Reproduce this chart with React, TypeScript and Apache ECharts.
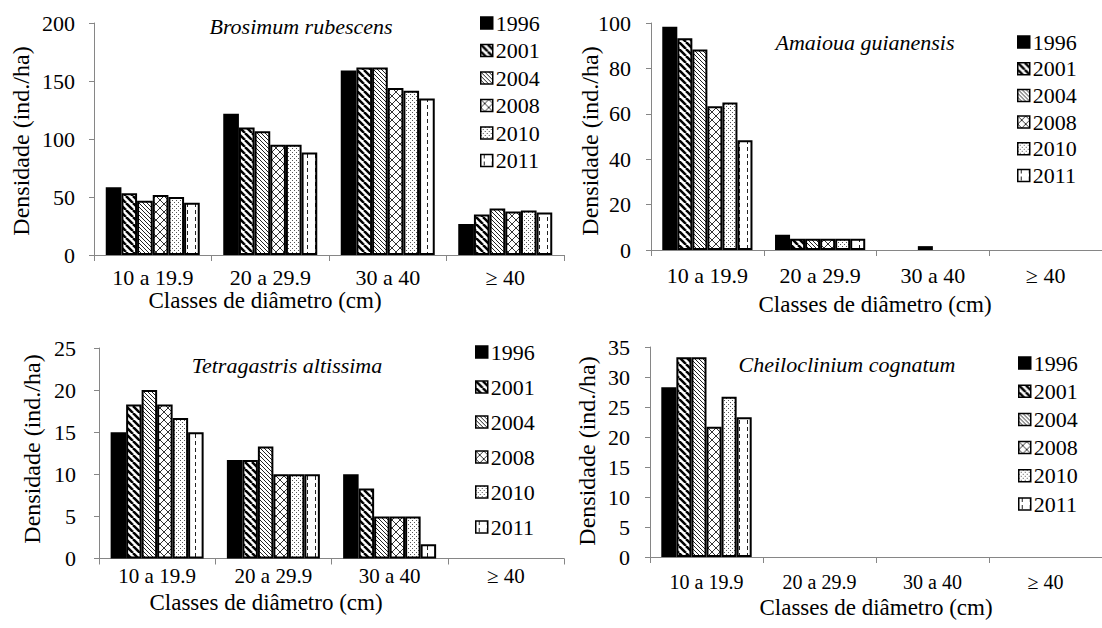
import React, { useEffect, useRef } from 'react';
import * as echarts from 'echarts';

// Census years and diameter classes
const years = ['1996', '2001', '2004', '2008', '2010', '2011'];
const diameterClasses = ['10 a 19.9', '20 a 29.9', '30 a 40', '≥ 40'];

// Density (ind./ha) per diameter class; one row per census year
const brosimumRubescens = [
  [58.3, 121.7, 159.0, 26.7],
  [53.3, 110.0, 161.7, 35.0],
  [46.7, 106.7, 161.7, 40.0],
  [51.7, 95.0, 144.0, 37.5],
  [50.0, 95.0, 141.7, 38.3],
  [45.0, 88.3, 135.0, 36.7],
];
const amaiouaGuianensis = [
  [98.3, 6.7, 0, 0],
  [93.3, 5.0, 0, 0],
  [88.3, 5.0, 1.7, 0],
  [63.3, 5.0, 0, 0],
  [65.0, 5.0, 0, 0],
  [48.3, 5.0, 0, 0],
];
const tetragastrisAltissima = [
  [15.0, 11.7, 10.0, 0],
  [18.3, 11.7, 8.3, 0],
  [20.0, 13.3, 5.0, 0],
  [18.3, 10.0, 5.0, 0],
  [16.7, 10.0, 5.0, 0],
  [15.0, 10.0, 1.7, 0],
];
const cheiloclinumCognatum = [
  [28.3, 0, 0, 0],
  [33.3, 0, 0, 0],
  [33.3, 0, 0, 0],
  [21.7, 0, 0, 0],
  [26.7, 0, 0, 0],
  [23.3, 0, 0, 0],
];

const FONT = "'Liberation Serif', 'Times New Roman', serif";
const AXIS_GREY = '#868686';

type Ctx = CanvasRenderingContext2D;

function tile(w: number, h: number, draw: (ctx: Ctx, w: number, h: number) => void) {
  const c = document.createElement('canvas');
  c.width = w;
  c.height = h;
  const ctx = c.getContext('2d') as Ctx;
  ctx.fillStyle = '#fff';
  ctx.fillRect(0, 0, w, h);
  draw(ctx, w, h);
  return { image: c.toDataURL(), repeat: 'repeat', imageWidth: w, imageHeight: h };
}

function diag(ctx: Ctx, s: number, dir: 1 | -1) {
  for (let k = -1; k <= 1; k++) {
    ctx.beginPath();
    if (dir === 1) {
      ctx.moveTo(k * s, 0);
      ctx.lineTo(k * s + s, s);
    } else {
      ctx.moveTo(k * s, s);
      ctx.lineTo(k * s + s, 0);
    }
    ctx.stroke();
  }
}

function buildFills(): any[] {
  const stripes = tile(7, 7, (ctx, w) => {
    ctx.strokeStyle = '#000';
    ctx.lineWidth = 2.5;
    diag(ctx, w, 1);
  });
  const fineStripes = tile(4, 4, (ctx, w) => {
    ctx.strokeStyle = '#222';
    ctx.lineWidth = 1;
    diag(ctx, w, 1);
  });
  const crossHatch = tile(8, 8, (ctx, w) => {
    ctx.strokeStyle = '#333';
    ctx.lineWidth = 1;
    diag(ctx, w, 1);
    diag(ctx, w, -1);
  });
  const dots = tile(4, 4, (ctx) => {
    ctx.fillStyle = '#555';
    ctx.fillRect(0, 0, 1, 1);
    ctx.fillRect(2, 2, 1, 1);
  });
  const dashes = tile(8, 7, (ctx) => {
    ctx.fillStyle = '#222';
    ctx.fillRect(3, 0, 1, 4);
  });
  return ['#000', stripes, fineStripes, crossHatch, dots, dashes];
}

interface Panel {
  title: string;
  values: number[][];
  max: number;
  interval: number;
  grid: { left: number; top: number; width: number; height: number };
  labelMargin: number;
  catFont: number;
  catMargin: number;
  titleAt: [number, number];
  legendAt: [number, number];
  legendGap: number;
  yTitleAt: [number, number];
  xTitleAt: [number, number];
}

const panels: Panel[] = [
  {
    title: 'Brosimum rubescens',
    values: brosimumRubescens,
    max: 200,
    interval: 50,
    grid: { left: 94, top: 23, width: 470, height: 232 },
    labelMargin: 19,
    catFont: 22,
    catMargin: 11,
    titleAt: [301, 26],
    legendAt: [480, 12],
    legendGap: 5.5,
    yTitleAt: [21, 141],
    xTitleAt: [265, 300],
  },
  {
    title: 'Amaioua guianensis',
    values: amaiouaGuianensis,
    max: 100,
    interval: 20,
    grid: { left: 651, top: 23, width: 451, height: 227 },
    labelMargin: 20,
    catFont: 22,
    catMargin: 14,
    titleAt: [865, 42],
    legendAt: [1017, 31],
    legendGap: 4.7,
    yTitleAt: [590, 141],
    xTitleAt: [875, 304],
  },
  {
    title: 'Tetragastris altissima',
    values: tetragastrisAltissima,
    max: 25,
    interval: 5,
    grid: { left: 99, top: 348, width: 465, height: 210.5 },
    labelMargin: 23,
    catFont: 21,
    catMargin: 7,
    titleAt: [287, 365],
    legendAt: [475, 341],
    legendGap: 13,
    yTitleAt: [32, 449],
    xTitleAt: [266, 602],
  },
  {
    title: 'Cheiloclinium cognatum',
    values: cheiloclinumCognatum,
    max: 35,
    interval: 5,
    grid: { left: 650, top: 347, width: 452, height: 210 },
    labelMargin: 20,
    catFont: 20,
    catMargin: 15,
    titleAt: [847, 364],
    legendAt: [1018, 352],
    legendGap: 6.2,
    yTitleAt: [587, 451],
    xTitleAt: [876, 607],
  },
];

function buildOption() {
  const fills = buildFills();

  const grid = panels.map((p) => ({ ...p.grid, containLabel: false }));

  const xAxis = panels.map((p, i) => ({
    type: 'category',
    gridIndex: i,
    data: diameterClasses,
    axisLine: { show: true, lineStyle: { color: AXIS_GREY, width: 1 } },
    axisTick: { show: true, length: 6, lineStyle: { color: AXIS_GREY } },
    axisLabel: {
      fontFamily: FONT,
      fontSize: p.catFont,
      color: '#000',
      margin: p.catMargin,
      interval: 0,
    },
    z: 0,
  }));

  const yAxis = panels.map((p, i) => ({
    type: 'value',
    gridIndex: i,
    min: 0,
    max: p.max,
    interval: p.interval,
    axisLine: { show: true, lineStyle: { color: AXIS_GREY, width: 1 } },
    axisTick: { show: true, length: 5, lineStyle: { color: AXIS_GREY } },
    splitLine: { show: false },
    axisLabel: {
      fontFamily: FONT,
      fontSize: 22,
      color: '#000',
      margin: p.labelMargin,
    },
  }));

  const series: any[] = [];
  panels.forEach((p, i) => {
    years.forEach((year, y) => {
      series.push({
        type: 'bar',
        name: year,
        xAxisIndex: i,
        yAxisIndex: i,
        barGap: '0%',
        barCategoryGap: '20%',
        silent: true,
        data: p.values[y].map((v) => (v === 0 ? null : v)),
        itemStyle: { color: fills[y], borderColor: '#000', borderWidth: 2 },
        emphasis: { disabled: true },
        z: 2,
      });
    });
  });

  const legend = panels.map((p) => ({
    orient: 'vertical',
    left: p.legendAt[0],
    top: p.legendAt[1],
    padding: 0,
    itemWidth: 12,
    itemHeight: 12,
    itemGap: p.legendGap,
    selectedMode: false,
    icon: 'rect',
    itemStyle: { borderColor: '#000', borderWidth: 1.5 },
    textStyle: { fontFamily: FONT, fontSize: 22, lineHeight: 22, color: '#000', padding: [0, 0, 0, -2] },
    data: years,
  }));

  const textEl = (
    text: string,
    x: number,
    y: number,
    fontSize: number,
    fontStyle: string,
    rotation = 0
  ) => ({
    type: 'text',
    x,
    y,
    rotation,
    silent: true,
    style: {
      text,
      fontFamily: FONT,
      fontSize,
      fontStyle,
      fontWeight: 'normal',
      fill: '#000',
      align: 'center',
      verticalAlign: 'middle',
      textAlign: 'center',
      textVerticalAlign: 'middle',
    },
  });

  const graphic: any[] = [];
  panels.forEach((p) => {
    graphic.push(textEl(p.title, p.titleAt[0], p.titleAt[1], 22, 'italic'));
    graphic.push(textEl('Densidade (ind./ha)', p.yTitleAt[0], p.yTitleAt[1], 24, 'normal', Math.PI / 2));
    graphic.push(textEl('Classes de diâmetro (cm)', p.xTitleAt[0], p.xTitleAt[1], 23, 'normal'));
  });

  return {
    animation: false,
    backgroundColor: '#fff',
    grid,
    xAxis,
    yAxis,
    series,
    legend,
    graphic,
  };
}

export default function App() {
  const ref = useRef<HTMLDivElement>(null);

  useEffect(() => {
    document.body.style.margin = '0';
    if (!ref.current) return;
    const chart = echarts.init(ref.current, null, { renderer: 'svg' });
    chart.setOption(buildOption() as any);
    return () => chart.dispose();
  }, []);

  return <div ref={ref} style={{ width: 1102, height: 628 }} />;
}
